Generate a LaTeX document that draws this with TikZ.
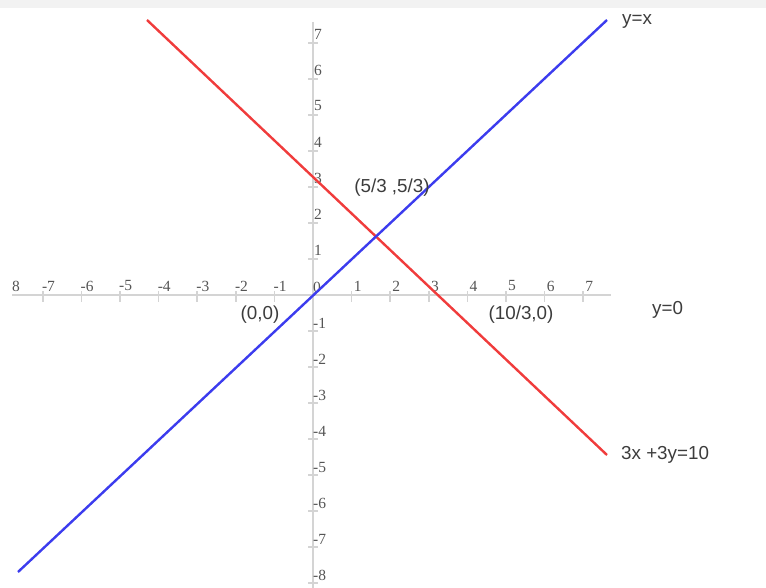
\documentclass[tikz,border=0pt]{standalone}
\usepackage{fontspec}
\setmainfont{Liberation Serif}
\setsansfont{Liberation Sans}
\definecolor{band}{HTML}{F2F2F2}
\definecolor{axisgray}{HTML}{D4D4D4}
\definecolor{ticktext}{HTML}{555555}
\definecolor{labtext}{HTML}{3C3C3C}
\definecolor{redline}{HTML}{F03C3C}
\definecolor{blueline}{HTML}{3C3CEE}
\tikzset{
  axisline/.style={draw=axisgray, line width=2.6pt},
  tickline/.style={draw=axisgray, line width=1.6pt},
  ticklab/.style={text=ticktext, font=\rmfamily\fontsize{15.5}{15.5}\selectfont, inner sep=0pt},
  eqlab/.style={text=labtext, font=\sffamily\fontsize{18.8}{18.8}\selectfont, inner sep=0pt},
  graph/.style={line width=2.4pt}
}
\begin{document}
\begin{tikzpicture}[x=1pt,y=-1pt]
\useasboundingbox (0,0) rectangle (766,588);
\fill[band] (0,0) rectangle (766,8);
% axes
\coordinate (xl) at (12,295);
\coordinate (xr) at (611,295);
\coordinate (yt) at (313,22);
\coordinate (yb) at (313,590);
\draw[axisline] (xl) -- (xr);
\draw[axisline] (yt) -- (yb);
% x ticks and labels
\foreach \i in {-7,...,7}{
  \draw[tickline] ({313+38.6*\i},291) -- ({313+38.6*\i},302);
}
\foreach \i in {-7,...,-1}{
  \node[ticklab, anchor=west] (xt\i) at ({312+38.6*\i},286) {\i};
}
\foreach \i in {1,...,7}{
  \node[ticklab, anchor=west] (xtp\i) at ({315+38.6*\i},286) {\i};
}
\node[ticklab, anchor=west] (x0) at (313,287) {0};
\node[ticklab, anchor=west] (xm8) at (12,286) {8};
% y ticks and labels
\foreach \i in {1,...,7}{
  \draw[tickline] (308,{295-36*\i}) -- (318,{295-36*\i});
  \node[ticklab, anchor=west] (ytp\i) at (314,{286-36*\i}) {\i};
}
\foreach \i in {1,...,8}{
  \draw[tickline] (308,{295+36*\i}) -- (318,{295+36*\i});
  \node[ticklab, anchor=west] (ytn\i) at (313,{287+36*\i}) {-\i};
}
% graph lines
\coordinate (r1) at (147,20);
\coordinate (r2) at (607,455);
\coordinate (b1) at (18,572);
\coordinate (b2) at (607,20);
\draw[graph, draw=redline] (r1) -- (r2);
\draw[graph, draw=blueline] (b1) -- (b2);
% labels
\node[eqlab, anchor=west] (lyx) at (622,21) {y=x};
\node[eqlab, anchor=west] (lred) at (621,455) {3x +3y=10};
\node[eqlab, anchor=west] (ly0) at (652,310) {y=0};
\node[eqlab] (l00) at (260,315) {(0,0)};
\node[eqlab] (l103) at (521,315) {(10/3,0)};
\node[eqlab] (l53) at (392,188) {(5/3 ,5/3)};
\end{tikzpicture}
\end{document}
